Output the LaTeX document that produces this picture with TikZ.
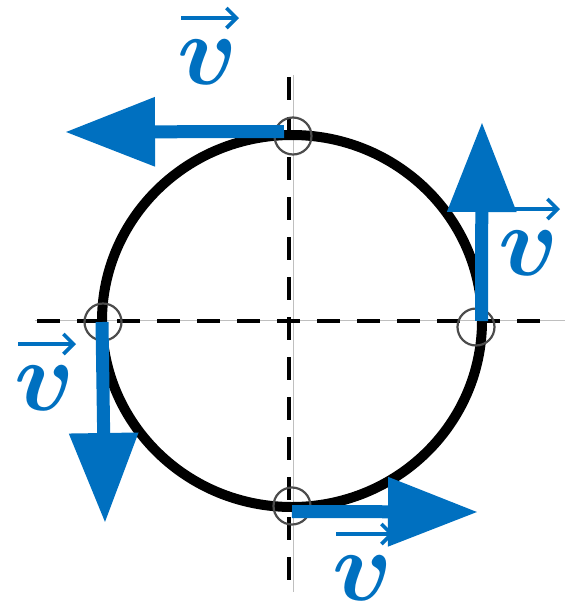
\documentclass[tikz,border=0pt]{standalone}
\usepackage{amsmath,bm}
\usetikzlibrary{arrows.meta}
\definecolor{vblue}{HTML}{0070C0}
\begin{document}
\begin{tikzpicture}[x=1pt,y=-1pt,
 axis/.style={line width=3.5pt, dash pattern=on 23pt off 17pt},
 axisguide/.style={line width=0.9pt, black!25},
 orbit/.style={line width=10pt},
 vel/.style={vblue, line width=13pt, -{Triangle[length=90pt,width=66pt]}},
 marker/.style={circle, draw=black!70, line width=2.2pt, minimum size=37pt, inner sep=0pt},
 vlabel/.style={text=vblue, scale=10, inner sep=0pt, anchor=base, text depth=0pt},
 accent/.style={vblue, line width=3.6pt, -{Straight Barb[length=10pt,width=20pt,line width=3.6pt]}}]
\useasboundingbox (0,0) rectangle (570,611);
% axes
\coordinate (vt) at (289,77);
\coordinate (vb) at (289,590);
\coordinate (gt) at (293,75);
\coordinate (gb) at (293,592);
\coordinate (hl) at (37,321);
\coordinate (hr) at (548,321);
\coordinate (gl) at (35,320);
\coordinate (gr) at (565,320);
\draw[axisguide] (gt) -- (gb);
\draw[axisguide] (gl) -- (gr);
\draw[axis] (vt) -- (vb);
\draw[axis] (hl) -- (hr);
% orbit
\coordinate (c) at (292,321);
\draw[orbit] (c) ellipse [x radius=190, y radius=186];
% points on orbit
\node[marker] (mt) at (293,136) {};
\node[marker] (mr) at (476,327) {};
\node[marker] (mb) at (292,506) {};
\node[marker] (ml) at (103,322) {};
% velocity vectors
\coordinate (st) at (284,131.5);
\coordinate (et) at (65,132);
\coordinate (sr) at (481.5,321);
\coordinate (er) at (482,122);
\coordinate (sl) at (102,322);
\coordinate (el) at (105,523);
\coordinate (sb) at (292,511.5);
\coordinate (eb) at (478,512);
\draw[vel] (st) -- (et);
\draw[vel] (sr) -- (er);
\draw[vel] (sl) -- (el);
\draw[vel] (sb) -- (eb);
% labels
\node[vlabel] (lt) at (208,84) {$\bm{v}$};
\node[vlabel] (lr) at (529,275) {$\bm{v}$};
\node[vlabel] (ll) at (45,410) {$\bm{v}$};
\node[vlabel] (lb) at (363,600) {$\bm{v}$};
\foreach \l in {lt,lr,ll,lb}
  \draw[accent] ([xshift=-27pt,yshift=66pt]\l.base) -- ++(58,0);
\end{tikzpicture}
\end{document}
